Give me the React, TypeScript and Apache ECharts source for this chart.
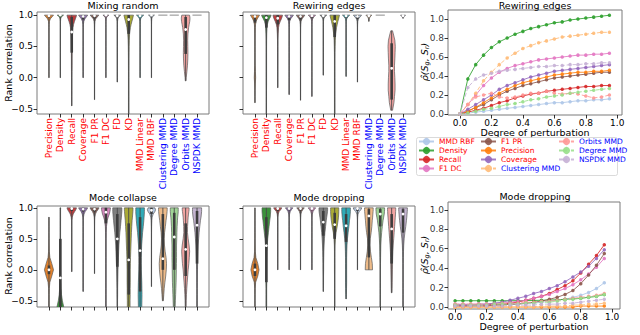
import React, { useEffect, useRef } from 'react';
import * as echarts from 'echarts';

const FONT = 'DejaVu Sans';

// ---------- violin panels ----------
const categories = ['Precision', 'Density', 'Recall', 'Coverage', 'F1 PR', 'F1 DC', 'FD', 'KD', 'MMD Linear', 'MMD RBF', 'Clustering MMD', 'Degree MMD', 'Orbits MMD', 'NSPDK MMD'];
const blueLabels = ['Clustering MMD', 'Degree MMD', 'Orbits MMD', 'NSPDK MMD'];
const violinColors = ['#e1812c', '#3a923a', '#c03d3e', '#9372b2', '#845b53', '#d585bd', '#7f7f7f', '#a9aa35', '#2eabb8', '#b5c8e1', '#eebb89', '#9fd495', '#f2a5a3', '#c4b4d0'];
const catTicks = [0, 1, 2, 3, 4, 5, 6, 7, 8, 9, 10, 11, 12, 13];
const rankTicks = [-0.5, 0, 0.5, 1.0];

// density profile sampled at these correlation levels (half-width, category units)
const levels = [1.0, 0.97, 0.94, 0.9, 0.85, 0.8, 0.7, 0.6, 0.5, 0.4, 0.3, 0.2, 0.1, 0.0, -0.1, -0.2, -0.3, -0.4, -0.5, -0.6];

// stats: [min, q1, median, q3, max]
const mixStats = [
  [0.0, 0.96, 0.99, 1.0, 1.0], [0.0, 0.98, 1.0, 1.0, 1.0], [-0.45, 0.4, 0.73, 0.97, 1.0], [0.0, 0.93, 0.98, 1.0, 1.0],
  [-0.35, 0.95, 0.99, 1.0, 1.0], [0.0, 0.98, 1.0, 1.0, 1.0], [-0.07, 0.97, 0.99, 1.0, 1.0], [-0.65, 0.7, 0.93, 1.0, 1.0],
  [0.0, 0.97, 0.99, 1.0, 1.0], [0.0, 0.98, 1.0, 1.0, 1.0], [1, 1, 1, 1, 1], [1, 1, 1, 1, 1],
  [-0.05, 0.38, 0.77, 0.97, 1.0], [1, 1, 1, 1, 1],
];
const mixWidths = [
  [0.40, 0.26, 0.12, 0.04, 0.02, 0.015, 0.01, 0.01, 0.01, 0.01, 0.01, 0.01, 0.01, 0.01, 0.01, 0.01, 0.01, 0.01, 0.01, 0.01],
  [0.28, 0.08, 0.03, 0.015, 0.01, 0.01, 0.01, 0.01, 0.01, 0.01, 0.01, 0.01, 0.01, 0.01, 0.01, 0.01, 0.01, 0.01, 0.01, 0.01],
  [0.42, 0.38, 0.32, 0.24, 0.16, 0.11, 0.07, 0.05, 0.04, 0.035, 0.03, 0.03, 0.025, 0.02, 0.02, 0.02, 0.015, 0.015, 0.01, 0.01],
  [0.40, 0.28, 0.15, 0.06, 0.025, 0.015, 0.01, 0.01, 0.01, 0.01, 0.01, 0.01, 0.01, 0.01, 0.01, 0.01, 0.01, 0.01, 0.01, 0.01],
  [0.38, 0.24, 0.10, 0.04, 0.02, 0.015, 0.01, 0.01, 0.01, 0.01, 0.01, 0.01, 0.01, 0.01, 0.01, 0.01, 0.01, 0.01, 0.01, 0.01],
  [0.26, 0.07, 0.03, 0.015, 0.01, 0.01, 0.01, 0.01, 0.01, 0.01, 0.01, 0.01, 0.01, 0.01, 0.01, 0.01, 0.01, 0.01, 0.01, 0.01],
  [0.30, 0.12, 0.05, 0.02, 0.01, 0.01, 0.01, 0.01, 0.01, 0.01, 0.01, 0.01, 0.01, 0.01, 0.01, 0.01, 0.01, 0.01, 0.01, 0.01],
  [0.42, 0.38, 0.34, 0.28, 0.21, 0.15, 0.08, 0.05, 0.035, 0.03, 0.025, 0.025, 0.02, 0.02, 0.02, 0.02, 0.02, 0.02, 0.02, 0.02],
  [0.32, 0.14, 0.05, 0.02, 0.01, 0.01, 0.01, 0.01, 0.01, 0.01, 0.01, 0.01, 0.01, 0.01, 0.01, 0.01, 0.01, 0.01, 0.01, 0.01],
  [0.26, 0.07, 0.03, 0.015, 0.01, 0.01, 0.01, 0.01, 0.01, 0.01, 0.01, 0.01, 0.01, 0.01, 0.01, 0.01, 0.01, 0.01, 0.01, 0.01],
  [0.40, 0, 0, 0, 0, 0, 0, 0, 0, 0, 0, 0, 0, 0, 0, 0, 0, 0, 0, 0],
  [0.40, 0, 0, 0, 0, 0, 0, 0, 0, 0, 0, 0, 0, 0, 0, 0, 0, 0, 0, 0],
  [0.34, 0.37, 0.38, 0.36, 0.31, 0.26, 0.20, 0.18, 0.19, 0.20, 0.19, 0.16, 0.11, 0.05, 0.02, 0.01, 0.01, 0.01, 0.01, 0.01],
  [0.40, 0, 0, 0, 0, 0, 0, 0, 0, 0, 0, 0, 0, 0, 0, 0, 0, 0, 0, 0],
];

const rewireStats = [
  [-0.4, 0.88, 0.98, 1.0, 1.0], [-0.65, 0.8, 0.96, 1.0, 1.0], [-0.16, 0.85, 0.95, 1.0, 1.0], [-0.27, 0.92, 0.98, 1.0, 1.0],
  [-0.36, 0.93, 0.98, 1.0, 1.0], [-0.3, 0.95, 0.99, 1.0, 1.0], [0.04, 0.97, 0.99, 1.0, 1.0], [-0.65, 0.65, 0.9, 1.0, 1.0],
  [0.02, 0.96, 0.99, 1.0, 1.0], [-0.07, 0.94, 0.98, 1.0, 1.0], [0.9, 0.97, 0.99, 1.0, 1.0], [1, 1, 1, 1, 1],
  [-0.52, -0.35, 0.15, 0.55, 0.75], [0.95, 0.98, 0.99, 1.0, 1.0],
];
const rewireWidths = [
  [0.40, 0.30, 0.20, 0.10, 0.05, 0.03, 0.02, 0.015, 0.015, 0.015, 0.015, 0.02, 0.04, 0.06, 0.03, 0.015, 0.01, 0.01, 0.01, 0.01],
  [0.42, 0.36, 0.26, 0.16, 0.09, 0.06, 0.035, 0.025, 0.02, 0.02, 0.02, 0.02, 0.02, 0.02, 0.02, 0.015, 0.015, 0.015, 0.015, 0.015],
  [0.42, 0.38, 0.32, 0.22, 0.12, 0.07, 0.035, 0.02, 0.015, 0.015, 0.015, 0.015, 0.01, 0.01, 0.01, 0.01, 0.01, 0.01, 0.01, 0.01],
  [0.38, 0.26, 0.13, 0.05, 0.025, 0.015, 0.01, 0.01, 0.01, 0.01, 0.01, 0.01, 0.01, 0.01, 0.01, 0.01, 0.01, 0.01, 0.01, 0.01],
  [0.38, 0.26, 0.13, 0.05, 0.025, 0.015, 0.01, 0.01, 0.01, 0.01, 0.01, 0.01, 0.01, 0.01, 0.01, 0.01, 0.01, 0.01, 0.01, 0.01],
  [0.32, 0.16, 0.06, 0.025, 0.015, 0.01, 0.01, 0.01, 0.01, 0.01, 0.01, 0.01, 0.01, 0.01, 0.01, 0.01, 0.01, 0.01, 0.01, 0.01],
  [0.30, 0.12, 0.04, 0.015, 0.01, 0.01, 0.01, 0.01, 0.01, 0.01, 0.01, 0.01, 0.01, 0.01, 0.01, 0.01, 0.01, 0.01, 0.01, 0.01],
  [0.42, 0.38, 0.34, 0.28, 0.22, 0.16, 0.09, 0.05, 0.035, 0.025, 0.02, 0.02, 0.02, 0.02, 0.02, 0.02, 0.02, 0.02, 0.02, 0.02],
  [0.32, 0.15, 0.05, 0.02, 0.01, 0.01, 0.01, 0.01, 0.01, 0.01, 0.01, 0.01, 0.01, 0.01, 0.01, 0.01, 0.01, 0.01, 0.01, 0.01],
  [0.36, 0.22, 0.09, 0.03, 0.015, 0.01, 0.01, 0.01, 0.01, 0.01, 0.01, 0.01, 0.01, 0.01, 0.01, 0.01, 0.01, 0.01, 0.01, 0.01],
  [0.26, 0.10, 0.03, 0.01, 0.01, 0.01, 0.01, 0.01, 0.01, 0.01, 0.01, 0.01, 0.01, 0.01, 0.01, 0.01, 0.01, 0.01, 0.01, 0.01],
  [0.40, 0, 0, 0, 0, 0, 0, 0, 0, 0, 0, 0, 0, 0, 0, 0, 0, 0, 0, 0],
  [0, 0, 0, 0, 0, 0, 0.15, 0.28, 0.32, 0.30, 0.28, 0.25, 0.25, 0.28, 0.30, 0.30, 0.25, 0.20, 0.10, 0.02],
  [0.22, 0.06, 0.02, 0.01, 0.01, 0.01, 0.01, 0.01, 0.01, 0.01, 0.01, 0.01, 0.01, 0.01, 0.01, 0.01, 0.01, 0.01, 0.01, 0.01],
];

const collapseStats = [
  [-0.65, -0.07, 0.0, 0.07, 0.85], [-0.7, -0.65, -0.13, 0.5, 1.0], [-0.03, 0.95, 0.99, 1.0, 1.0], [-0.35, 0.94, 0.98, 1.0, 1.0],
  [-0.06, 0.94, 0.98, 1.0, 1.0], [-0.65, 0.75, 0.93, 1.0, 1.0], [-0.65, 0.05, 0.5, 0.9, 1.0], [-0.65, -0.4, 0.16, 0.75, 1.0],
  [-0.65, -0.35, 0.31, 0.85, 1.0], [-0.27, 0.9, 0.96, 1.0, 1.0], [-0.5, 0.0, 0.18, 0.9, 1.0], [-0.65, 0.0, 0.53, 0.92, 1.0],
  [-0.65, -0.1, 0.33, 0.75, 1.0], [-0.65, 0.1, 0.72, 0.95, 1.0],
];
const collapseWidths = [
  [0.01, 0.01, 0.01, 0.01, 0.01, 0.01, 0.01, 0.01, 0.015, 0.02, 0.03, 0.08, 0.25, 0.40, 0.25, 0.08, 0.03, 0.02, 0.02, 0.02],
  [0.03, 0.02, 0.02, 0.02, 0.02, 0.02, 0.02, 0.02, 0.02, 0.02, 0.02, 0.02, 0.02, 0.025, 0.03, 0.04, 0.06, 0.10, 0.18, 0.30],
  [0.42, 0.36, 0.26, 0.13, 0.05, 0.02, 0.01, 0.01, 0.01, 0.01, 0.01, 0.01, 0.01, 0.01, 0.01, 0.01, 0.01, 0.01, 0.01, 0.01],
  [0.40, 0.30, 0.18, 0.08, 0.03, 0.015, 0.01, 0.01, 0.01, 0.01, 0.01, 0.01, 0.01, 0.01, 0.01, 0.01, 0.01, 0.01, 0.01, 0.01],
  [0.40, 0.30, 0.18, 0.08, 0.03, 0.015, 0.01, 0.01, 0.01, 0.01, 0.01, 0.01, 0.01, 0.01, 0.01, 0.01, 0.01, 0.01, 0.01, 0.01],
  [0.40, 0.38, 0.35, 0.30, 0.20, 0.12, 0.05, 0.03, 0.02, 0.02, 0.02, 0.02, 0.02, 0.02, 0.02, 0.02, 0.02, 0.02, 0.02, 0.02],
  [0.40, 0.40, 0.40, 0.38, 0.36, 0.33, 0.28, 0.22, 0.18, 0.14, 0.12, 0.10, 0.08, 0.06, 0.05, 0.04, 0.03, 0.03, 0.02, 0.02],
  [0.38, 0.38, 0.37, 0.35, 0.33, 0.30, 0.27, 0.24, 0.22, 0.20, 0.18, 0.16, 0.15, 0.14, 0.14, 0.14, 0.13, 0.13, 0.12, 0.12],
  [0.38, 0.38, 0.38, 0.37, 0.35, 0.33, 0.28, 0.22, 0.18, 0.14, 0.12, 0.10, 0.10, 0.11, 0.13, 0.15, 0.16, 0.17, 0.16, 0.15],
  [0.30, 0.36, 0.30, 0.15, 0.06, 0.03, 0.015, 0.01, 0.01, 0.01, 0.01, 0.01, 0.01, 0.01, 0.01, 0.01, 0.01, 0.01, 0.01, 0.01],
  [0.38, 0.38, 0.37, 0.35, 0.32, 0.28, 0.22, 0.15, 0.12, 0.14, 0.20, 0.28, 0.32, 0.30, 0.25, 0.18, 0.12, 0.08, 0.04, 0.02],
  [0.35, 0.35, 0.35, 0.33, 0.30, 0.28, 0.25, 0.23, 0.22, 0.20, 0.20, 0.20, 0.19, 0.18, 0.17, 0.16, 0.14, 0.12, 0.10, 0.08],
  [0.30, 0.30, 0.28, 0.25, 0.22, 0.20, 0.17, 0.16, 0.22, 0.30, 0.35, 0.32, 0.28, 0.22, 0.18, 0.14, 0.10, 0.07, 0.05, 0.04],
  [0.40, 0.40, 0.40, 0.38, 0.35, 0.30, 0.24, 0.18, 0.14, 0.10, 0.08, 0.06, 0.05, 0.04, 0.03, 0.03, 0.02, 0.02, 0.02, 0.02],
];

const dropStats = [
  [-0.65, -0.1, 0.0, 0.1, 1.0], [-0.65, -0.2, 0.39, 0.85, 1.0], [0.0, 0.95, 0.99, 1.0, 1.0], [0.0, 0.96, 0.99, 1.0, 1.0],
  [0.0, 0.96, 0.99, 1.0, 1.0], [0.0, 0.96, 0.99, 1.0, 1.0], [-0.35, 0.55, 0.77, 0.95, 1.0], [-0.65, 0.5, 0.73, 0.92, 1.0],
  [-0.47, 0.45, 0.71, 0.9, 1.0], [0.0, 0.95, 0.99, 1.0, 1.0], [0.0, 0.2, 0.87, 0.98, 1.0], [-0.65, 0.7, 0.9, 0.98, 1.0],
  [-0.37, 0.1, 0.66, 0.9, 1.0], [-0.65, 0.6, 0.9, 0.98, 1.0],
];
const dropWidths = [
  [0.01, 0.01, 0.01, 0.01, 0.01, 0.01, 0.01, 0.015, 0.015, 0.02, 0.03, 0.08, 0.25, 0.36, 0.25, 0.06, 0.02, 0.015, 0.01, 0.01],
  [0.38, 0.38, 0.38, 0.36, 0.34, 0.30, 0.24, 0.18, 0.12, 0.08, 0.06, 0.05, 0.04, 0.04, 0.04, 0.04, 0.03, 0.03, 0.03, 0.03],
  [0.36, 0.26, 0.12, 0.05, 0.02, 0.01, 0.01, 0.01, 0.01, 0.01, 0.01, 0.01, 0.01, 0.01, 0.01, 0.01, 0.01, 0.01, 0.01, 0.01],
  [0.33, 0.20, 0.10, 0.04, 0.02, 0.01, 0.01, 0.01, 0.01, 0.01, 0.01, 0.01, 0.01, 0.01, 0.01, 0.01, 0.01, 0.01, 0.01, 0.01],
  [0.33, 0.20, 0.10, 0.04, 0.02, 0.01, 0.01, 0.01, 0.01, 0.01, 0.01, 0.01, 0.01, 0.01, 0.01, 0.01, 0.01, 0.01, 0.01, 0.01],
  [0.33, 0.20, 0.10, 0.04, 0.02, 0.01, 0.01, 0.01, 0.01, 0.01, 0.01, 0.01, 0.01, 0.01, 0.01, 0.01, 0.01, 0.01, 0.01, 0.01],
  [0.38, 0.38, 0.37, 0.34, 0.30, 0.26, 0.20, 0.14, 0.10, 0.07, 0.05, 0.04, 0.03, 0.03, 0.02, 0.02, 0.015, 0.01, 0.01, 0.01],
  [0.36, 0.36, 0.36, 0.35, 0.33, 0.30, 0.22, 0.12, 0.06, 0.03, 0.02, 0.02, 0.02, 0.02, 0.015, 0.015, 0.015, 0.015, 0.015, 0.015],
  [0.38, 0.38, 0.38, 0.36, 0.34, 0.30, 0.25, 0.18, 0.12, 0.08, 0.06, 0.05, 0.05, 0.05, 0.05, 0.05, 0.04, 0.03, 0.01, 0.01],
  [0.38, 0.30, 0.15, 0.05, 0.02, 0.01, 0.01, 0.01, 0.01, 0.01, 0.01, 0.01, 0.01, 0.01, 0.01, 0.01, 0.01, 0.01, 0.01, 0.01],
  [0.38, 0.38, 0.37, 0.35, 0.33, 0.30, 0.26, 0.20, 0.12, 0.10, 0.14, 0.22, 0.30, 0.32, 0.02, 0.01, 0.01, 0.01, 0.01, 0.01],
  [0.38, 0.38, 0.37, 0.35, 0.30, 0.25, 0.18, 0.12, 0.08, 0.05, 0.04, 0.03, 0.02, 0.02, 0.02, 0.02, 0.02, 0.02, 0.02, 0.02],
  [0.36, 0.36, 0.35, 0.34, 0.32, 0.30, 0.26, 0.22, 0.18, 0.14, 0.11, 0.09, 0.08, 0.07, 0.06, 0.05, 0.04, 0.02, 0.01, 0.01],
  [0.38, 0.38, 0.37, 0.35, 0.33, 0.30, 0.24, 0.16, 0.10, 0.06, 0.04, 0.03, 0.02, 0.02, 0.02, 0.02, 0.02, 0.02, 0.02, 0.02],
];

// ---------- line panels ----------
const degrees = [0, 0.05, 0.1, 0.15, 0.2, 0.25, 0.3, 0.35, 0.4, 0.45, 0.5, 0.55, 0.6, 0.65, 0.7, 0.75, 0.8, 0.85, 0.9, 0.95];
const degreeTicks = [0, 0.2, 0.4, 0.6, 0.8, 1.0];
const corrTicks = [0, 0.2, 0.4, 0.6, 0.8, 1.0];
const lineNames = ['MMD RBF', 'Density', 'Recall', 'F1 DC', 'F1 PR', 'Precision', 'Coverage', 'Clustering MMD', 'Orbits MMD', 'Degree MMD', 'NSPDK MMD'];
const lineColors = ['#aec7e8', '#2ca02c', '#d62728', '#e377c2', '#8c564b', '#ff7f0e', '#9467bd', '#ffbb78', '#ff9896', '#98df8a', '#c5b0d5'];
const lineDashed = [false, false, false, false, false, false, false, true, true, true, true];

const rewireLines = [
  [0, 0.01, 0.02, 0.03, 0.04, 0.05, 0.06, 0.07, 0.08, 0.09, 0.10, 0.11, 0.12, 0.12, 0.13, 0.14, 0.14, 0.15, 0.15, 0.16],
  [0, 0.37, 0.52, 0.62, 0.70, 0.76, 0.80, 0.84, 0.87, 0.90, 0.92, 0.94, 0.96, 0.97, 0.99, 1.00, 1.01, 1.02, 1.03, 1.04],
  [0, 0.02, 0.04, 0.06, 0.09, 0.12, 0.14, 0.17, 0.19, 0.21, 0.22, 0.24, 0.25, 0.26, 0.27, 0.28, 0.29, 0.29, 0.30, 0.30],
  [0, 0.10, 0.20, 0.30, 0.38, 0.44, 0.48, 0.51, 0.53, 0.55, 0.57, 0.58, 0.59, 0.60, 0.61, 0.62, 0.62, 0.63, 0.63, 0.64],
  [0, 0.03, 0.07, 0.10, 0.15, 0.20, 0.24, 0.27, 0.30, 0.32, 0.34, 0.36, 0.38, 0.39, 0.40, 0.41, 0.42, 0.43, 0.44, 0.44],
  [0, 0.03, 0.07, 0.12, 0.17, 0.22, 0.26, 0.30, 0.33, 0.35, 0.37, 0.39, 0.41, 0.42, 0.43, 0.44, 0.44, 0.45, 0.45, 0.46],
  [0, 0.05, 0.10, 0.15, 0.20, 0.26, 0.30, 0.33, 0.36, 0.39, 0.41, 0.43, 0.45, 0.46, 0.47, 0.48, 0.49, 0.50, 0.51, 0.52],
  [0, 0.10, 0.22, 0.35, 0.44, 0.52, 0.59, 0.64, 0.69, 0.72, 0.75, 0.77, 0.79, 0.81, 0.82, 0.83, 0.84, 0.85, 0.86, 0.86],
  [0, 0.10, 0.18, 0.20, 0.22, 0.18, 0.17, 0.18, 0.20, 0.22, 0.22, 0.24, 0.22, 0.21, 0.22, 0.21, 0.19, 0.17, 0.18, 0.20],
  [0, 0.01, 0.03, 0.05, 0.06, 0.08, 0.10, 0.11, 0.13, 0.15, 0.16, 0.18, 0.19, 0.20, 0.22, 0.23, 0.24, 0.25, 0.26, 0.27],
  [0, 0.28, 0.37, 0.41, 0.43, 0.45, 0.46, 0.47, 0.48, 0.49, 0.50, 0.50, 0.51, 0.51, 0.52, 0.52, 0.53, 0.53, 0.54, 0.54],
];
const dropLines = [
  [0.02, 0.02, 0.02, 0.02, 0.02, 0.02, 0.03, 0.03, 0.03, 0.04, 0.04, 0.05, 0.06, 0.07, 0.08, 0.10, 0.12, 0.15, 0.19, 0.25],
  [0.065, 0.065, 0.065, 0.065, 0.065, 0.065, 0.065, 0.065, 0.066, 0.067, 0.068, 0.07, 0.072, 0.075, 0.08, 0.085, 0.09, 0.10, 0.11, 0.13],
  [0.02, 0.02, 0.02, 0.02, 0.02, 0.03, 0.03, 0.04, 0.05, 0.07, 0.09, 0.11, 0.14, 0.18, 0.22, 0.27, 0.35, 0.44, 0.53, 0.64],
  [0.03, 0.03, 0.03, 0.03, 0.03, 0.04, 0.04, 0.05, 0.06, 0.07, 0.09, 0.11, 0.13, 0.16, 0.19, 0.23, 0.28, 0.34, 0.41, 0.50],
  [0.01, 0.01, 0.01, 0.01, 0.01, 0.02, 0.02, 0.03, 0.03, 0.04, 0.05, 0.06, 0.08, 0.10, 0.13, 0.17, 0.24, 0.33, 0.43, 0.55],
  [0, 0, 0, 0, 0, 0, 0, 0, 0, 0, 0, 0, 0, 0, 0, 0, 0.01, 0.01, 0.01, 0.01],
  [0.02, 0.02, 0.02, 0.03, 0.03, 0.04, 0.05, 0.07, 0.09, 0.11, 0.14, 0.16, 0.19, 0.22, 0.26, 0.31, 0.36, 0.42, 0.50, 0.59],
  [0, 0, 0, 0, 0, 0, 0, 0, 0, 0, 0, 0.01, 0.01, 0.01, 0.01, 0.02, 0.02, 0.03, 0.03, 0.04],
  [0.03, 0.03, 0.03, 0.03, 0.03, 0.03, 0.04, 0.04, 0.04, 0.05, 0.05, 0.06, 0.06, 0.07, 0.08, 0.09, 0.10, 0.11, 0.12, 0.14],
  [0.02, 0.02, 0.02, 0.02, 0.02, 0.03, 0.03, 0.03, 0.03, 0.04, 0.04, 0.05, 0.05, 0.06, 0.07, 0.08, 0.09, 0.10, 0.11, 0.13],
  [0.01, 0.01, 0.01, 0.01, 0.01, 0.01, 0.01, 0.02, 0.02, 0.02, 0.02, 0.03, 0.03, 0.03, 0.04, 0.04, 0.05, 0.06, 0.07, 0.08],
];

// x-range of the two line panels (their left edge carries the y tick labels)
const rewireXRange = [-0.076, 1.03];
const dropXRange = [-0.045, 1.05];

// ---------- helpers ----------
const fmtTick = (v: number) => (v < 0 ? '\u2212' : '') + Math.abs(Number(v)).toFixed(1);

function widthAt(w: number[], y: number) {
  if (y >= levels[0]) return w[0];
  for (let j = 0; j < levels.length - 1; j++) {
    const a = levels[j], b = levels[j + 1];
    if (y <= a && y >= b) {
      const t = (a - y) / (a - b);
      return w[j] + (w[j + 1] - w[j]) * t;
    }
  }
  return w[w.length - 1];
}

function violinSeries(axis: number, stats: number[][], widths: number[][]) {
  return {
    type: 'custom',
    xAxisIndex: axis,
    yAxisIndex: axis,
    clip: true,
    silent: true,
    data: stats.map((s, i) => [i, ...s]),
    encode: { x: 0, y: [1, 5] },
    renderItem: (params: any, api: any) => {
      const idx = params.dataIndex;
      const i = api.value(0);
      const mn = api.value(1), q1 = api.value(2), md = api.value(3), q3 = api.value(4), mx = api.value(5);
      const w = widths[idx];
      const color = violinColors[idx];
      const children: any[] = [];
      if (mx - mn < 1e-6) {
        const a = api.coord([i - w[0], mx]);
        const b = api.coord([i + w[0], mx]);
        children.push({ type: 'line', shape: { x1: a[0], y1: a[1], x2: b[0], y2: b[1] }, style: { stroke: '#8c8c8c', lineWidth: 1 } });
        return { type: 'group', children };
      }
      const ys = [mx, ...levels.filter((l) => l < mx && l > mn), mn];
      const right = ys.map((y) => api.coord([i + Math.max(widthAt(w, y), 0.008), y]));
      const left = ys.slice().reverse().map((y) => api.coord([i - Math.max(widthAt(w, y), 0.008), y]));
      children.push({
        type: 'polygon',
        shape: { points: right.concat(left) },
        style: { fill: color, stroke: '#5a5a5a', lineWidth: 0.7 },
      });
      const p0 = api.coord([i, mn]);
      const p1 = api.coord([i, mx]);
      children.push({ type: 'line', shape: { x1: p0[0], y1: p0[1], x2: p1[0], y2: p1[1] }, style: { stroke: '#4a4a4a', lineWidth: 0.9 } });
      const b0 = api.coord([i, q1]);
      const b1 = api.coord([i, q3]);
      children.push({ type: 'line', shape: { x1: b0[0], y1: b0[1], x2: b1[0], y2: b1[1] }, style: { stroke: '#3d3d3d', lineWidth: 2.6 } });
      const m = api.coord([i, md]);
      children.push({ type: 'circle', shape: { cx: m[0], cy: m[1], r: 1.4 }, style: { fill: '#ffffff', stroke: 'none' } });
      return { type: 'group', children };
    },
  };
}

const tickStyle = { show: true, length: 3.5, lineStyle: { color: '#000', width: 0.8 } };
const labelBase = { fontSize: 9, fontFamily: FONT, color: '#000' };
const noLine = { show: false, onZero: false };

function violinX(gridIndex: number, showLabels: boolean) {
  return {
    type: 'value', gridIndex, min: -1.05, max: 14.05, position: 'bottom',
    axisLine: noLine, splitLine: { show: false },
    axisTick: { ...tickStyle, customValues: catTicks },
    axisLabel: showLabels
      ? {
          show: true, customValues: catTicks, rotate: 90, margin: 4, fontSize: 9, fontFamily: FONT,
          formatter: (v: any) => categories[Math.round(Number(v))] ?? '',
          color: (v: any) => (blueLabels.includes(categories[Math.round(Number(v))]) ? '#0000ff' : '#ff0000'),
        }
      : { show: false },
  };
}

function violinY(gridIndex: number, min: number, max: number, showLabels: boolean) {
  return {
    type: 'value', gridIndex, min, max, position: 'left',
    axisLine: noLine, splitLine: { show: false },
    axisTick: { ...tickStyle, customValues: rankTicks },
    axisLabel: { ...labelBase, show: showLabels, customValues: rankTicks, margin: 4, formatter: fmtTick },
  };
}

function lineX(gridIndex: number, range: number[], gap: number) {
  return {
    type: 'value', gridIndex, min: range[0], max: range[1], position: 'bottom',
    axisLine: noLine, splitLine: { show: false },
    axisTick: { ...tickStyle, customValues: degreeTicks },
    axisLabel: { ...labelBase, customValues: degreeTicks, margin: 3, formatter: fmtTick },
    name: 'Degree of perturbation', nameLocation: 'middle', nameGap: gap,
    nameTextStyle: { fontSize: 9.5, fontFamily: FONT, color: '#000' },
  };
}

function lineY(gridIndex: number, min: number, max: number) {
  return {
    type: 'value', gridIndex, min, max, position: 'left',
    axisLine: noLine, splitLine: { show: false },
    axisTick: { ...tickStyle, customValues: corrTicks },
    axisLabel: { show: false },
  };
}

// y tick labels of a line panel, drawn as labels of invisible points on its left edge
function yTickSeries(axis: number, xLeft: number) {
  return {
    type: 'scatter',
    xAxisIndex: axis,
    yAxisIndex: axis,
    data: corrTicks.map((v) => [xLeft, v]),
    symbolSize: 0,
    silent: true,
    clip: false,
    z: 20,
    label: {
      show: true, position: 'left', distance: 4,
      formatter: (p: any) => fmtTick(p.value[1]),
      fontSize: 9, fontFamily: FONT, color: '#000',
    },
  };
}

function lineSeries(axis: number, sets: number[][]) {
  return sets.map((vals, k) => ({
    type: 'line',
    name: lineNames[k],
    xAxisIndex: axis,
    yAxisIndex: axis,
    data: degrees.map((d, j) => [d, vals[j]]),
    symbol: 'circle',
    symbolSize: 3.5,
    silent: true,
    z: 3,
    lineStyle: { color: lineColors[k], width: 1, type: lineDashed[k] ? 'dashed' : 'solid', opacity: 0.85 },
    itemStyle: { color: lineColors[k], opacity: 0.9 },
  }));
}

function legendCol(names: string[], left: number) {
  return {
    orient: 'vertical', left, top: 137, itemWidth: 15, itemHeight: 9, itemGap: 0, z: 10,
    selectedMode: false,
    data: names.map((n) => ({
      name: n,
      textStyle: { color: blueLabels.includes(n) ? '#0000ff' : '#ff0000', fontSize: 7.5, fontFamily: FONT, lineHeight: 9 },
    })),
    padding: 0,
  };
}

const titleText = (text: string, x: number, y: number) => ({
  type: 'text', x, y, silent: true,
  style: { text, fill: '#000', font: `9.5px "${FONT}"`, align: 'center', verticalAlign: 'middle' },
});

const sideLabel = (text: string, x: number, y: number) => ({
  type: 'text', x, y, rotation: Math.PI / 2, silent: true,
  style: { text, fill: '#000', font: `9.5px "${FONT}"`, align: 'center', verticalAlign: 'middle' },
});

const rhoLabel = (x: number, y: number) => ({
  type: 'text', x, y, rotation: Math.PI / 2, silent: true,
  style: {
    text: '{a|\u03c1\u0302(S}{s|g}{a|, S}{s|r}{a|)}',
    align: 'center', verticalAlign: 'middle', fill: '#000',
    rich: {
      a: { fontSize: 9.5, fontStyle: 'italic', fontFamily: FONT, fill: '#000', lineHeight: 13 },
      s: { fontSize: 6.5, fontStyle: 'italic', fontFamily: FONT, fill: '#000', lineHeight: 7, verticalAlign: 'bottom' },
    },
  },
});

export default function App() {
  const ref = useRef<HTMLDivElement>(null);
  useEffect(() => {
    const chart = echarts.init(ref.current!, null, { renderer: 'svg' });
    const gridBase = { show: true, borderColor: '#7a7a7a', borderWidth: 1, backgroundColor: 'transparent', containLabel: false, outerBoundsMode: 'none' };
    chart.setOption({
      animation: false,
      textStyle: { fontFamily: FONT },
      grid: [
        { ...gridBase, left: 37, top: 12, width: 172, height: 102 },
        { ...gridBase, left: 243, top: 12, width: 172, height: 102 },
        { ...gridBase, left: 448, top: 10, width: 174, height: 105 },
        { ...gridBase, left: 37, top: 206, width: 172, height: 101 },
        { ...gridBase, left: 243, top: 206, width: 172, height: 101 },
        { ...gridBase, left: 448, top: 202, width: 172, height: 107 },
      ],
      xAxis: [
        violinX(0, true),
        violinX(1, true),
        lineX(2, rewireXRange, 8),
        violinX(3, false),
        violinX(4, false),
        lineX(5, dropXRange, 8),
      ],
      yAxis: [
        violinY(0, -0.58, 1.05, true),
        violinY(1, -0.58, 1.05, false),
        lineY(2, -0.01, 1.095),
        violinY(3, -0.6, 1.03, true),
        violinY(4, -0.6, 1.03, false),
        lineY(5, -0.02, 1.08),
      ],
      legend: [
        legendCol(lineNames.slice(0, 4), 418),
        legendCol(lineNames.slice(4, 8), 480),
        legendCol(lineNames.slice(8), 558),
      ],
      graphic: [
        titleText('Mixing random', 123, 5),
        titleText('Rewiring edges', 329, 5),
        titleText('Rewiring edges', 535, 5),
        titleText('Mode collapse', 123, 197),
        titleText('Mode dropping', 329, 197),
        titleText('Mode dropping', 535, 196),
        sideLabel('Rank correlation', 8, 63),
        sideLabel('Rank correlation', 8, 256),
        rhoLabel(424, 62),
        rhoLabel(424, 255),
        {
          type: 'rect', z: 1, silent: true,
          shape: { x: 416.5, y: 137.5, width: 201, height: 38, r: 2 },
          style: { fill: 'rgba(255,255,255,0.85)', stroke: '#d0d0d0', lineWidth: 0.8 },
        },
      ],
      series: [
        violinSeries(0, mixStats, mixWidths),
        violinSeries(1, rewireStats, rewireWidths),
        ...lineSeries(2, rewireLines),
        yTickSeries(2, rewireXRange[0]),
        violinSeries(3, collapseStats, collapseWidths),
        violinSeries(4, dropStats, dropWidths),
        ...lineSeries(5, dropLines),
        yTickSeries(5, dropXRange[0]),
      ],
    });
    return () => chart.dispose();
  }, []);
  return <div ref={ref} style={{ position: 'fixed', left: 0, top: 0, width: 640, height: 335, background: '#fff' }} />;
}
